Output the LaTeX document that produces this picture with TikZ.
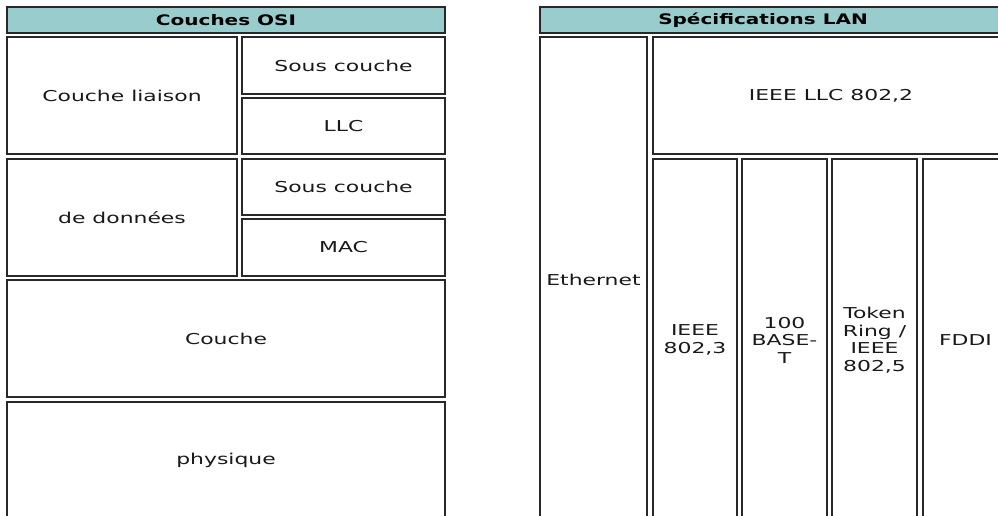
\documentclass[tikz,border=0pt]{standalone}
\usepackage{fontspec}
\newfontfamily\cellfont[FakeStretch=1.46]{DejaVu Sans}
\newfontfamily\headfont[FakeStretch=1.38]{DejaVu Sans}
\definecolor{headfill}{RGB}{153,204,204}
\definecolor{inkgray}{RGB}{25,25,25}
\definecolor{rulegray}{RGB}{40,40,40}

% one table cell: [style], name, x1, y1, x2, y2, text (y grows downwards)
\newcommand\cellbox[7][]{%
  \pgfmathsetmacro\cw{#5-#3}\pgfmathsetmacro\ch{#6-#4}%
  \node[cellstyle,#1,minimum width=\cw pt,minimum height=\ch pt]
    (#2) at ({(#3+#5)/2},{(#4+#6)/2}) {#7};}

\begin{document}
\begin{tikzpicture}[x=1pt,y=-1pt,
  cellstyle/.style={draw=rulegray,line width=1.4pt,fill=white,inner sep=0pt,
    align=center,text=inkgray,font=\cellfont\fontsize{15pt}{17.5pt}\selectfont},
  headstyle/.style={cellstyle,fill=headfill,text=black,
    font=\headfont\bfseries\fontsize{14.5pt}{17pt}\selectfont},
  titlestyle/.style={inner sep=0pt,text=black,
    font=\headfont\bfseries\fontsize{14.5pt}{17pt}\selectfont}]
\useasboundingbox (0,0) rectangle (998,515);
\fill[white] (0,0) rectangle (998,515);
\clip (0,0) rectangle (998,515);

% OSI layers
\cellbox[headstyle]{hdrosi}{7}{7}{445}{33}{Couches OSI}
\cellbox{liaison}{7}{37}{237}{154}{Couche liaison}
\cellbox{souscA}{242}{37}{445}{94}{Sous couche}
\cellbox{llc}{242}{98}{445}{154}{LLC}
\cellbox{donnees}{7}{159}{237}{276}{de données}
\cellbox{souscB}{242}{159}{445}{215}{Sous couche}
\cellbox{mac}{242}{219}{445}{276}{MAC}
\cellbox{couche}{7}{280}{445}{397}{Couche}
\cellbox{physique}{7}{402}{445}{518}{physique}

% LAN specifications
\cellbox[headstyle]{hdrlan}{540}{7}{1009}{33}{}
\node[titlestyle] (lantitle) at (763,20) {Spécifications LAN};
\cellbox{ethernet}{540}{37}{647}{523}{Ethernet}
\cellbox{llcspec}{653}{37}{1009}{154}{IEEE LLC 802,2}
\cellbox{ieeeA}{653}{159}{737}{521}{IEEE\\802,3}
\cellbox{base}{742}{159}{827}{521}{100\\BASE-\\T}
\cellbox{token}{832}{159}{917}{521}{Token\\Ring /\\IEEE\\802,5}
\cellbox{fddi}{923}{159}{1008}{521}{FDDI}
\end{tikzpicture}
\end{document}
